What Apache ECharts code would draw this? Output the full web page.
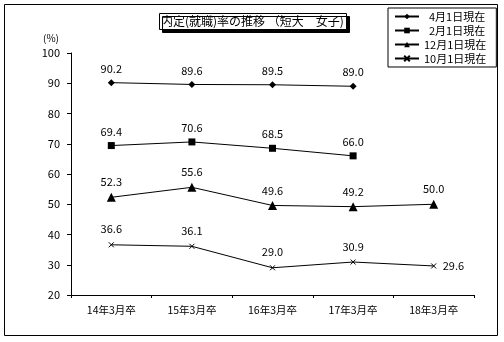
<!DOCTYPE html>
<html><head><meta charset="utf-8">
<script src="https://cdn.jsdelivr.net/npm/echarts@6/dist/echarts.min.js"></script>
<style>html,body{margin:0;padding:0;background:#fff}#c{width:504px;height:342px}</style>
</head><body><div id="c"></div>
<script>
var categories = ['14年3月卒','15年3月卒','16年3月卒','17年3月卒','18年3月卒'];
var seriesNames = ['  4月1日現在','  2月1日現在','12月1日現在','10月1日現在'];
var apr1 = [90.2, 89.6, 89.5, 89.0, null];
var feb1 = [69.4, 70.6, 68.5, 66.0, null];
var dec1 = [52.3, 55.6, 49.6, 49.2, 50.0];
var oct1 = [36.6, 36.1, 29.0, 30.9, 29.6];
var yTicks = [20, 30, 40, 50, 60, 70, 80, 90, 100];

var FONT = '"Noto Sans CJK JP", sans-serif';
var chart = echarts.init(document.getElementById('c'));
function mkSeries(name, data, symbol, size, extra) {
  var s = {
    name: name, type: 'line', data: data, symbol: symbol, symbolSize: size,
    showAllSymbol: true, connectNulls: false,
    lineStyle: {color: '#000', width: 1},
    itemStyle: {color: '#000'},
    label: {show: true, position: 'top', distance: 5, color: '#000', fontSize: 11, fontFamily: FONT,
      formatter: function (p) { return p.value == null ? '' : p.value.toFixed(1); }},
    animation: false
  };
  if (extra) extra(s);
  return s;
}
var option = {
  animation: false,
  textStyle: {fontFamily: FONT},
  title: {
    text: '内定(就職)率の推移 （短大　女子)',
    left: 159, top: 13, padding: [2, 3, 2, 2],
    borderColor: '#000', borderWidth: 1, backgroundColor: '#fff',
    shadowColor: '#000', shadowOffsetX: 3, shadowOffsetY: 3, shadowBlur: 0,
    textStyle: {fontSize: 12, lineHeight: 13, fontWeight: 'normal', color: '#000', fontFamily: FONT}
  },
  legend: {
    orient: 'vertical', left: 388, top: 8, width: 106,
    padding: [3, 10, 3, 6], itemGap: 3, itemWidth: 24, itemHeight: 7,
    borderColor: '#000', borderWidth: 1, backgroundColor: '#fff',
    textStyle: {fontSize: 11, color: '#000', fontFamily: FONT},
    data: seriesNames
  },
  graphic: [
    {type: 'rect', shape: {x: 4.5, y: 4.5, width: 493, height: 331}, style: {fill: null, stroke: '#000', lineWidth: 1}, z: -10},
    {type: 'text', left: 43, top: 33, style: {text: '(%)', fontSize: 10, fill: '#000', fontFamily: FONT}}
  ],
  grid: {left: 71, right: 30, top: 53, bottom: 47},
  xAxis: {
    type: 'category', data: categories, boundaryGap: true,
    axisLine: {lineStyle: {color: '#000', width: 1}},
    axisTick: {show: true, length: 3, inside: false, lineStyle: {color: '#000'}},
    axisLabel: {color: '#000', fontSize: 10.5, margin: 10, fontFamily: FONT},
    splitLine: {show: false}
  },
  yAxis: {
    type: 'value', min: yTicks[0], max: yTicks[yTicks.length - 1], interval: 10,
    axisLine: {show: true, lineStyle: {color: '#000', width: 1}},
    axisTick: {show: true, length: 4, lineStyle: {color: '#000'}},
    axisLabel: {color: '#000', fontSize: 11, margin: 11, fontFamily: FONT},
    splitLine: {show: false}
  },
  series: [
    mkSeries(seriesNames[0], apr1, 'diamond', 7),
    mkSeries(seriesNames[1], feb1, 'rect', 7),
    mkSeries(seriesNames[2], dec1, 'triangle', 9),
    mkSeries(seriesNames[3], oct1, 'path://M0,0L10,10M10,0L0,10', 5, function (s) {
      s.itemStyle = {color: 'none', borderColor: '#000', borderWidth: 1};
      s.data = oct1.map(function (v, i) {
        if (i === oct1.length - 1) return {value: v, label: {position: 'right', distance: 4}};
        return v;
      });
    })
  ]
};
chart.setOption(option);
</script></body></html>
